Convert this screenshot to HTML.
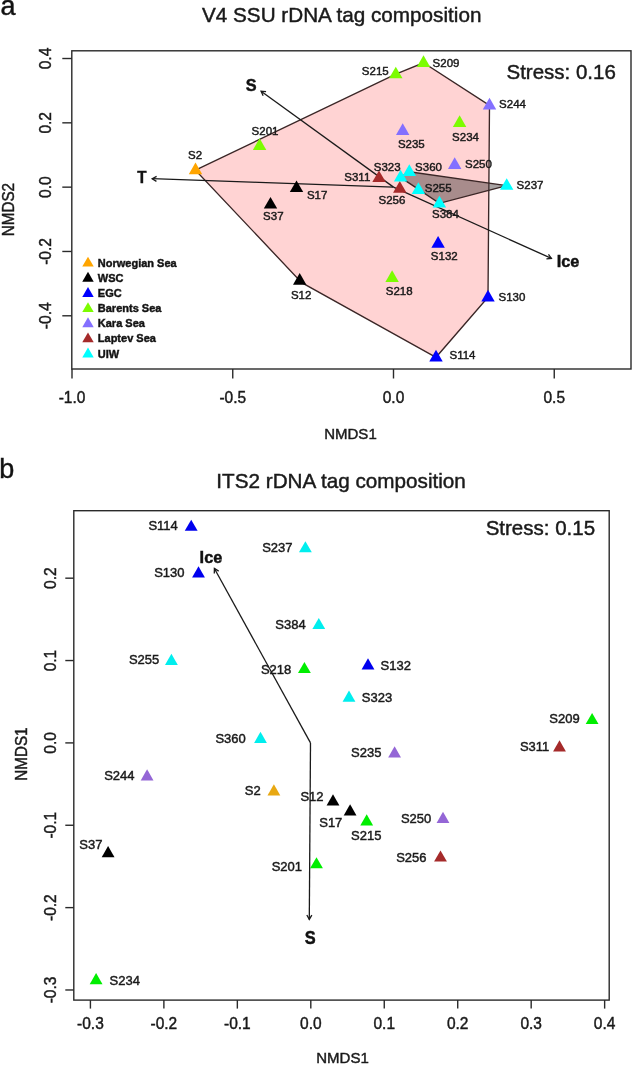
<!DOCTYPE html>
<html><head><meta charset="utf-8"><style>
html,body{margin:0;padding:0;background:#fff;}
body{width:632px;height:1065px;overflow:hidden;}
svg{display:block;font-family:"Liberation Sans", sans-serif;filter:blur(0.4px);}
text{stroke:currentColor;stroke-width:0.45px;}
</style></head><body>
<svg style="color:#1a1a1a" width="632" height="1065" viewBox="0 0 632 1065">
<rect width="632" height="1065" fill="#fff"/>
<polygon points="195.50,170.10 395.80,74.20 423.50,62.80 489.50,105.40 488.00,297.30 436.00,357.30 301.70,282.70" fill="#ffd3d3" stroke="#3a2626" stroke-width="1.35"/>
<polygon points="400.60,177.40 409.30,171.80 506.70,185.70 439.40,203.30" fill="rgba(70,60,60,0.47)" stroke="#3a2626" stroke-width="1.35"/>
<line x1="393.50" y1="187.15" x2="152.20" y2="178.70" stroke="#1a1a1a" stroke-width="1.3"/><polyline points="156.44,181.35 152.20,178.70 156.61,176.35" fill="none" stroke="#1a1a1a" stroke-width="1.3"/>
<line x1="393.50" y1="187.15" x2="261.10" y2="91.20" stroke="#1a1a1a" stroke-width="1.3"/><polyline points="263.14,95.77 261.10,91.20 266.07,91.72" fill="none" stroke="#1a1a1a" stroke-width="1.3"/>
<line x1="393.50" y1="187.15" x2="551.40" y2="258.40" stroke="#1a1a1a" stroke-width="1.3"/><polyline points="548.48,254.34 551.40,258.40 546.42,258.90" fill="none" stroke="#1a1a1a" stroke-width="1.3"/>
<polygon points="195.50,162.55 202.21,174.17 188.79,174.17" fill="#ffa500"/>
<polygon points="259.60,138.35 266.31,149.97 252.89,149.97" fill="#7cfc00"/>
<polygon points="395.80,66.65 402.51,78.28 389.09,78.28" fill="#7cfc00"/>
<polygon points="423.50,55.25 430.21,66.88 416.79,66.88" fill="#7cfc00"/>
<polygon points="489.50,97.85 496.21,109.48 482.79,109.48" fill="#8470ff"/>
<polygon points="459.60,115.25 466.31,126.88 452.89,126.88" fill="#7cfc00"/>
<polygon points="402.70,123.25 409.41,134.88 395.99,134.88" fill="#8470ff"/>
<polygon points="454.70,157.25 461.41,168.88 447.99,168.88" fill="#8470ff"/>
<polygon points="506.70,178.15 513.41,189.77 499.99,189.77" fill="#00ffff"/>
<polygon points="379.00,170.40 385.71,182.02 372.29,182.02" fill="#a52a2a"/>
<polygon points="399.80,181.05 406.51,192.67 393.09,192.67" fill="#a52a2a"/>
<polygon points="400.60,169.85 407.31,181.47 393.89,181.47" fill="#00ffff"/>
<polygon points="409.30,164.25 416.01,175.88 402.59,175.88" fill="#00ffff"/>
<polygon points="418.40,182.25 425.11,193.88 411.69,193.88" fill="#00ffff"/>
<polygon points="439.40,195.75 446.11,207.38 432.69,207.38" fill="#00ffff"/>
<polygon points="296.50,180.45 303.21,192.07 289.79,192.07" fill="#000000"/>
<polygon points="270.50,196.95 277.21,208.57 263.79,208.57" fill="#000000"/>
<polygon points="299.70,273.05 306.41,284.68 292.99,284.68" fill="#000000"/>
<polygon points="438.10,236.05 444.81,247.67 431.39,247.67" fill="#0000ff"/>
<polygon points="392.10,270.35 398.81,281.97 385.39,281.97" fill="#7cfc00"/>
<polygon points="488.00,289.75 494.71,301.38 481.29,301.38" fill="#0000ff"/>
<polygon points="436.00,349.75 442.71,361.38 429.29,361.38" fill="#0000ff"/>
<text x="195.15" y="158.80" font-size="11.5" font-weight="normal" fill="#1a1a1a" style="color:#1a1a1a" text-anchor="middle">S2</text>
<text x="265.00" y="134.60" font-size="11.5" font-weight="normal" fill="#1a1a1a" style="color:#1a1a1a" text-anchor="middle">S201</text>
<text x="375.30" y="75.00" font-size="11.5" font-weight="normal" fill="#1a1a1a" style="color:#1a1a1a" text-anchor="middle">S215</text>
<text x="446.05" y="66.50" font-size="11.5" font-weight="normal" fill="#1a1a1a" style="color:#1a1a1a" text-anchor="middle">S209</text>
<text x="512.50" y="108.40" font-size="11.5" font-weight="normal" fill="#1a1a1a" style="color:#1a1a1a" text-anchor="middle">S244</text>
<text x="465.55" y="140.80" font-size="11.5" font-weight="normal" fill="#1a1a1a" style="color:#1a1a1a" text-anchor="middle">S234</text>
<text x="411.35" y="148.10" font-size="11.5" font-weight="normal" fill="#1a1a1a" style="color:#1a1a1a" text-anchor="middle">S235</text>
<text x="478.40" y="167.80" font-size="11.5" font-weight="normal" fill="#1a1a1a" style="color:#1a1a1a" text-anchor="middle">S250</text>
<text x="530.00" y="188.70" font-size="11.5" font-weight="normal" fill="#1a1a1a" style="color:#1a1a1a" text-anchor="middle">S237</text>
<text x="357.30" y="180.90" font-size="11.5" font-weight="normal" fill="#1a1a1a" style="color:#1a1a1a" text-anchor="middle">S311</text>
<text x="387.15" y="171.40" font-size="11.5" font-weight="normal" fill="#1a1a1a" style="color:#1a1a1a" text-anchor="middle">S323</text>
<text x="391.95" y="203.80" font-size="11.5" font-weight="normal" fill="#1a1a1a" style="color:#1a1a1a" text-anchor="middle">S256</text>
<text x="428.55" y="170.60" font-size="11.5" font-weight="normal" fill="#1a1a1a" style="color:#1a1a1a" text-anchor="middle">S360</text>
<text x="438.20" y="191.90" font-size="11.5" font-weight="normal" fill="#1a1a1a" style="color:#1a1a1a" text-anchor="middle">S255</text>
<text x="445.40" y="218.30" font-size="11.5" font-weight="normal" fill="#1a1a1a" style="color:#1a1a1a" text-anchor="middle">S384</text>
<text x="317.20" y="199.20" font-size="11.5" font-weight="normal" fill="#1a1a1a" style="color:#1a1a1a" text-anchor="middle">S17</text>
<text x="273.35" y="220.10" font-size="11.5" font-weight="normal" fill="#1a1a1a" style="color:#1a1a1a" text-anchor="middle">S37</text>
<text x="301.15" y="298.50" font-size="11.5" font-weight="normal" fill="#1a1a1a" style="color:#1a1a1a" text-anchor="middle">S12</text>
<text x="444.25" y="259.90" font-size="11.5" font-weight="normal" fill="#1a1a1a" style="color:#1a1a1a" text-anchor="middle">S132</text>
<text x="399.15" y="294.80" font-size="11.5" font-weight="normal" fill="#1a1a1a" style="color:#1a1a1a" text-anchor="middle">S218</text>
<text x="511.95" y="301.40" font-size="11.5" font-weight="normal" fill="#1a1a1a" style="color:#1a1a1a" text-anchor="middle">S130</text>
<text x="462.50" y="358.90" font-size="11.5" font-weight="normal" fill="#1a1a1a" style="color:#1a1a1a" text-anchor="middle">S114</text>
<text transform="translate(251.25,91.20) scale(0.98,1)" x="0" y="0" font-size="16.6" font-weight="bold" fill="#111" style="color:#111" text-anchor="middle">S</text>
<text transform="translate(141.80,182.50) scale(0.92,1)" x="0" y="0" font-size="16.5" font-weight="bold" fill="#111" style="color:#111" text-anchor="middle">T</text>
<text transform="translate(568.00,267.30) scale(0.96,1)" x="0" y="0" font-size="17" font-weight="bold" fill="#111" style="color:#111" text-anchor="middle">Ice</text>
<text x="561.15" y="79.30" font-size="20.5" font-weight="normal" fill="#1a1a1a" style="color:#1a1a1a" text-anchor="middle">Stress: 0.16</text>
<rect x="71.8" y="50.8" width="559.20" height="318.20" fill="none" stroke="#2a2a2a" stroke-width="1.4"/>
<line x1="72.00" y1="369.0" x2="72.00" y2="378.5" stroke="#2a2a2a" stroke-width="1.4"/>
<text transform="translate(72.00,403.0) scale(0.94,1)" font-size="16.5" fill="#1a1a1a" text-anchor="middle">-1.0</text>
<line x1="232.75" y1="369.0" x2="232.75" y2="378.5" stroke="#2a2a2a" stroke-width="1.4"/>
<text transform="translate(232.75,403.0) scale(0.94,1)" font-size="16.5" fill="#1a1a1a" text-anchor="middle">-0.5</text>
<line x1="393.50" y1="369.0" x2="393.50" y2="378.5" stroke="#2a2a2a" stroke-width="1.4"/>
<text transform="translate(393.50,403.0) scale(0.94,1)" font-size="16.5" fill="#1a1a1a" text-anchor="middle">0.0</text>
<line x1="554.25" y1="369.0" x2="554.25" y2="378.5" stroke="#2a2a2a" stroke-width="1.4"/>
<text transform="translate(554.25,403.0) scale(0.94,1)" font-size="16.5" fill="#1a1a1a" text-anchor="middle">0.5</text>
<line x1="62.3" y1="58.51" x2="71.8" y2="58.51" stroke="#2a2a2a" stroke-width="1.4"/>
<text transform="translate(50.60,58.51) rotate(-90) scale(0.94,1)" x="0" y="0" font-size="16.5" fill="#1a1a1a" style="color:#1a1a1a" text-anchor="middle">0.4</text>
<line x1="62.3" y1="122.83" x2="71.8" y2="122.83" stroke="#2a2a2a" stroke-width="1.4"/>
<text transform="translate(50.60,122.83) rotate(-90) scale(0.94,1)" x="0" y="0" font-size="16.5" fill="#1a1a1a" style="color:#1a1a1a" text-anchor="middle">0.2</text>
<line x1="62.3" y1="187.15" x2="71.8" y2="187.15" stroke="#2a2a2a" stroke-width="1.4"/>
<text transform="translate(50.60,187.15) rotate(-90) scale(0.94,1)" x="0" y="0" font-size="16.5" fill="#1a1a1a" style="color:#1a1a1a" text-anchor="middle">0.0</text>
<line x1="62.3" y1="251.47" x2="71.8" y2="251.47" stroke="#2a2a2a" stroke-width="1.4"/>
<text transform="translate(50.60,251.47) rotate(-90) scale(0.94,1)" x="0" y="0" font-size="16.5" fill="#1a1a1a" style="color:#1a1a1a" text-anchor="middle">-0.2</text>
<line x1="62.3" y1="315.79" x2="71.8" y2="315.79" stroke="#2a2a2a" stroke-width="1.4"/>
<text transform="translate(50.60,315.79) rotate(-90) scale(0.94,1)" x="0" y="0" font-size="16.5" fill="#1a1a1a" style="color:#1a1a1a" text-anchor="middle">-0.4</text>
<text transform="translate(350.45,438.90) scale(0.97,1)" x="0" y="0" font-size="15.5" font-weight="normal" fill="#1a1a1a" style="color:#1a1a1a" text-anchor="middle">NMDS1</text>
<text transform="translate(13.80,209.60) rotate(-90) scale(0.95,1)" x="0" y="0" font-size="16.0" fill="#1a1a1a" style="color:#1a1a1a" text-anchor="middle">NMDS2</text>
<text x="341.70" y="21.80" font-size="20.7" font-weight="normal" fill="#1a1a1a" style="color:#1a1a1a" text-anchor="middle">V4 SSU rDNA tag composition</text>
<polygon points="88.00,256.70 93.72,266.60 82.28,266.60" fill="#ffa500"/>
<text x="97.8" y="266.70" font-size="11" font-weight="bold" fill="#111">Norwegian Sea</text>
<polygon points="88.00,271.85 93.72,281.75 82.28,281.75" fill="#000000"/>
<text x="97.8" y="281.85" font-size="11" font-weight="bold" fill="#111">WSC</text>
<polygon points="88.00,287.00 93.72,296.90 82.28,296.90" fill="#0000ff"/>
<text x="97.8" y="297.00" font-size="11" font-weight="bold" fill="#111">EGC</text>
<polygon points="88.00,302.15 93.72,312.05 82.28,312.05" fill="#7cfc00"/>
<text x="97.8" y="312.15" font-size="11" font-weight="bold" fill="#111">Barents Sea</text>
<polygon points="88.00,317.30 93.72,327.20 82.28,327.20" fill="#8470ff"/>
<text x="97.8" y="327.30" font-size="11" font-weight="bold" fill="#111">Kara Sea</text>
<polygon points="88.00,332.45 93.72,342.35 82.28,342.35" fill="#a52a2a"/>
<text x="97.8" y="342.45" font-size="11" font-weight="bold" fill="#111">Laptev Sea</text>
<polygon points="88.00,347.60 93.72,357.50 82.28,357.50" fill="#00ffff"/>
<text x="97.8" y="357.60" font-size="11" font-weight="bold" fill="#111">UIW</text>
<text x="0.5" y="14.5" font-size="27" fill="#111">a</text>
<text x="-0.8" y="478" font-size="27" fill="#111">b</text>
<line x1="310.50" y1="742.90" x2="214.40" y2="568.50" stroke="#1a1a1a" stroke-width="1.3"/><polyline points="214.30,573.50 214.40,568.50 218.68,571.09" fill="none" stroke="#1a1a1a" stroke-width="1.3"/>
<line x1="310.50" y1="742.90" x2="309.30" y2="919.40" stroke="#1a1a1a" stroke-width="1.3"/><polyline points="311.83,915.09 309.30,919.40 306.83,915.05" fill="none" stroke="#1a1a1a" stroke-width="1.3"/>
<polygon points="191.20,519.70 197.61,530.80 184.79,530.80" fill="#0000ee"/>
<polygon points="198.50,566.30 204.91,577.40 192.09,577.40" fill="#0000ee"/>
<polygon points="305.40,541.20 311.81,552.30 298.99,552.30" fill="#00eeee"/>
<polygon points="318.80,617.90 325.21,629.00 312.39,629.00" fill="#00eeee"/>
<polygon points="171.40,653.80 177.81,664.90 164.99,664.90" fill="#00eeee"/>
<polygon points="304.40,661.90 310.81,673.00 297.99,673.00" fill="#00ee00"/>
<polygon points="368.00,658.30 374.41,669.40 361.59,669.40" fill="#0000ee"/>
<polygon points="349.00,690.60 355.41,701.70 342.59,701.70" fill="#00eeee"/>
<polygon points="260.50,731.80 266.91,742.90 254.09,742.90" fill="#00eeee"/>
<polygon points="147.10,769.30 153.51,780.40 140.69,780.40" fill="#9466d6"/>
<polygon points="273.90,784.30 280.31,795.40 267.49,795.40" fill="#e8a812"/>
<polygon points="108.10,846.10 114.51,857.20 101.69,857.20" fill="#000000"/>
<polygon points="333.00,794.30 339.41,805.40 326.59,805.40" fill="#000000"/>
<polygon points="350.10,804.30 356.51,815.40 343.69,815.40" fill="#000000"/>
<polygon points="366.70,814.30 373.11,825.40 360.29,825.40" fill="#00ee00"/>
<polygon points="316.50,857.20 322.91,868.30 310.09,868.30" fill="#00ee00"/>
<polygon points="394.60,746.30 401.01,757.40 388.19,757.40" fill="#9466d6"/>
<polygon points="443.00,811.80 449.41,822.90 436.59,822.90" fill="#9466d6"/>
<polygon points="440.50,850.50 446.91,861.60 434.09,861.60" fill="#a52a2a"/>
<polygon points="592.10,713.00 598.51,724.10 585.69,724.10" fill="#00ee00"/>
<polygon points="559.50,740.30 565.91,751.40 553.09,751.40" fill="#a52a2a"/>
<polygon points="96.10,973.10 102.51,984.20 89.69,984.20" fill="#00ee00"/>
<text x="163.10" y="530.30" font-size="13" font-weight="normal" fill="#1a1a1a" style="color:#1a1a1a" text-anchor="middle">S114</text>
<text x="169.40" y="577.20" font-size="13" font-weight="normal" fill="#1a1a1a" style="color:#1a1a1a" text-anchor="middle">S130</text>
<text x="277.35" y="551.60" font-size="13" font-weight="normal" fill="#1a1a1a" style="color:#1a1a1a" text-anchor="middle">S237</text>
<text x="290.50" y="629.20" font-size="13" font-weight="normal" fill="#1a1a1a" style="color:#1a1a1a" text-anchor="middle">S384</text>
<text x="144.15" y="664.20" font-size="13" font-weight="normal" fill="#1a1a1a" style="color:#1a1a1a" text-anchor="middle">S255</text>
<text x="276.15" y="673.90" font-size="13" font-weight="normal" fill="#1a1a1a" style="color:#1a1a1a" text-anchor="middle">S218</text>
<text x="395.75" y="669.70" font-size="13" font-weight="normal" fill="#1a1a1a" style="color:#1a1a1a" text-anchor="middle">S132</text>
<text x="376.95" y="701.80" font-size="13" font-weight="normal" fill="#1a1a1a" style="color:#1a1a1a" text-anchor="middle">S323</text>
<text x="230.60" y="742.80" font-size="13" font-weight="normal" fill="#1a1a1a" style="color:#1a1a1a" text-anchor="middle">S360</text>
<text x="119.35" y="779.90" font-size="13" font-weight="normal" fill="#1a1a1a" style="color:#1a1a1a" text-anchor="middle">S244</text>
<text x="252.70" y="794.60" font-size="13" font-weight="normal" fill="#1a1a1a" style="color:#1a1a1a" text-anchor="middle">S2</text>
<text x="90.90" y="849.00" font-size="13" font-weight="normal" fill="#1a1a1a" style="color:#1a1a1a" text-anchor="middle">S37</text>
<text x="312.00" y="801.30" font-size="13" font-weight="normal" fill="#1a1a1a" style="color:#1a1a1a" text-anchor="middle">S12</text>
<text x="330.80" y="827.40" font-size="13" font-weight="normal" fill="#1a1a1a" style="color:#1a1a1a" text-anchor="middle">S17</text>
<text x="366.20" y="839.60" font-size="13" font-weight="normal" fill="#1a1a1a" style="color:#1a1a1a" text-anchor="middle">S215</text>
<text x="286.90" y="871.40" font-size="13" font-weight="normal" fill="#1a1a1a" style="color:#1a1a1a" text-anchor="middle">S201</text>
<text x="366.20" y="756.60" font-size="13" font-weight="normal" fill="#1a1a1a" style="color:#1a1a1a" text-anchor="middle">S235</text>
<text x="416.10" y="822.80" font-size="13" font-weight="normal" fill="#1a1a1a" style="color:#1a1a1a" text-anchor="middle">S250</text>
<text x="411.40" y="862.00" font-size="13" font-weight="normal" fill="#1a1a1a" style="color:#1a1a1a" text-anchor="middle">S256</text>
<text x="564.55" y="722.80" font-size="13" font-weight="normal" fill="#1a1a1a" style="color:#1a1a1a" text-anchor="middle">S209</text>
<text x="534.65" y="750.90" font-size="13" font-weight="normal" fill="#1a1a1a" style="color:#1a1a1a" text-anchor="middle">S311</text>
<text x="124.75" y="985.10" font-size="13" font-weight="normal" fill="#1a1a1a" style="color:#1a1a1a" text-anchor="middle">S234</text>
<text transform="translate(210.95,563.00) scale(0.96,1)" x="0" y="0" font-size="17" font-weight="bold" fill="#111" style="color:#111" text-anchor="middle">Ice</text>
<text transform="translate(310.25,943.80) scale(0.9,1)" x="0" y="0" font-size="18.2" font-weight="bold" fill="#111" style="color:#111" text-anchor="middle">S</text>
<text x="540.35" y="534.80" font-size="20.5" font-weight="normal" fill="#1a1a1a" style="color:#1a1a1a" text-anchor="middle">Stress: 0.15</text>
<rect x="73.8" y="510.7" width="535.40" height="489.40" fill="none" stroke="#2a2a2a" stroke-width="1.4"/>
<line x1="90.42" y1="1000.1" x2="90.42" y2="1008.6" stroke="#2a2a2a" stroke-width="1.4"/>
<text transform="translate(90.42,1029.2) scale(0.94,1)" font-size="16.5" fill="#1a1a1a" text-anchor="middle">-0.3</text>
<line x1="163.88" y1="1000.1" x2="163.88" y2="1008.6" stroke="#2a2a2a" stroke-width="1.4"/>
<text transform="translate(163.88,1029.2) scale(0.94,1)" font-size="16.5" fill="#1a1a1a" text-anchor="middle">-0.2</text>
<line x1="237.34" y1="1000.1" x2="237.34" y2="1008.6" stroke="#2a2a2a" stroke-width="1.4"/>
<text transform="translate(237.34,1029.2) scale(0.94,1)" font-size="16.5" fill="#1a1a1a" text-anchor="middle">-0.1</text>
<line x1="310.80" y1="1000.1" x2="310.80" y2="1008.6" stroke="#2a2a2a" stroke-width="1.4"/>
<text transform="translate(310.80,1029.2) scale(0.94,1)" font-size="16.5" fill="#1a1a1a" text-anchor="middle">0.0</text>
<line x1="384.26" y1="1000.1" x2="384.26" y2="1008.6" stroke="#2a2a2a" stroke-width="1.4"/>
<text transform="translate(384.26,1029.2) scale(0.94,1)" font-size="16.5" fill="#1a1a1a" text-anchor="middle">0.1</text>
<line x1="457.72" y1="1000.1" x2="457.72" y2="1008.6" stroke="#2a2a2a" stroke-width="1.4"/>
<text transform="translate(457.72,1029.2) scale(0.94,1)" font-size="16.5" fill="#1a1a1a" text-anchor="middle">0.2</text>
<line x1="531.18" y1="1000.1" x2="531.18" y2="1008.6" stroke="#2a2a2a" stroke-width="1.4"/>
<text transform="translate(531.18,1029.2) scale(0.94,1)" font-size="16.5" fill="#1a1a1a" text-anchor="middle">0.3</text>
<line x1="604.64" y1="1000.1" x2="604.64" y2="1008.6" stroke="#2a2a2a" stroke-width="1.4"/>
<text transform="translate(604.64,1029.2) scale(0.94,1)" font-size="16.5" fill="#1a1a1a" text-anchor="middle">0.4</text>
<line x1="65.3" y1="578.18" x2="73.8" y2="578.18" stroke="#2a2a2a" stroke-width="1.4"/>
<text transform="translate(55.90,578.18) rotate(-90) scale(0.94,1)" x="0" y="0" font-size="16.5" fill="#1a1a1a" style="color:#1a1a1a" text-anchor="middle">0.2</text>
<line x1="65.3" y1="660.54" x2="73.8" y2="660.54" stroke="#2a2a2a" stroke-width="1.4"/>
<text transform="translate(55.90,660.54) rotate(-90) scale(0.94,1)" x="0" y="0" font-size="16.5" fill="#1a1a1a" style="color:#1a1a1a" text-anchor="middle">0.1</text>
<line x1="65.3" y1="742.90" x2="73.8" y2="742.90" stroke="#2a2a2a" stroke-width="1.4"/>
<text transform="translate(55.90,742.90) rotate(-90) scale(0.94,1)" x="0" y="0" font-size="16.5" fill="#1a1a1a" style="color:#1a1a1a" text-anchor="middle">0.0</text>
<line x1="65.3" y1="825.26" x2="73.8" y2="825.26" stroke="#2a2a2a" stroke-width="1.4"/>
<text transform="translate(55.90,825.26) rotate(-90) scale(0.94,1)" x="0" y="0" font-size="16.5" fill="#1a1a1a" style="color:#1a1a1a" text-anchor="middle">-0.1</text>
<line x1="65.3" y1="907.62" x2="73.8" y2="907.62" stroke="#2a2a2a" stroke-width="1.4"/>
<text transform="translate(55.90,907.62) rotate(-90) scale(0.94,1)" x="0" y="0" font-size="16.5" fill="#1a1a1a" style="color:#1a1a1a" text-anchor="middle">-0.2</text>
<line x1="65.3" y1="989.98" x2="73.8" y2="989.98" stroke="#2a2a2a" stroke-width="1.4"/>
<text transform="translate(55.90,989.98) rotate(-90) scale(0.94,1)" x="0" y="0" font-size="16.5" fill="#1a1a1a" style="color:#1a1a1a" text-anchor="middle">-0.3</text>
<text transform="translate(342.50,1063.10) scale(0.97,1)" x="0" y="0" font-size="15.5" font-weight="normal" fill="#1a1a1a" style="color:#1a1a1a" text-anchor="middle">NMDS1</text>
<text transform="translate(26.80,754.10) rotate(-90) scale(0.95,1)" x="0" y="0" font-size="16.0" fill="#1a1a1a" style="color:#1a1a1a" text-anchor="middle">NMDS1</text>
<text x="341.10" y="487.80" font-size="20.7" font-weight="normal" fill="#1a1a1a" style="color:#1a1a1a" text-anchor="middle">ITS2 rDNA tag composition</text>
</svg>
</body></html>
